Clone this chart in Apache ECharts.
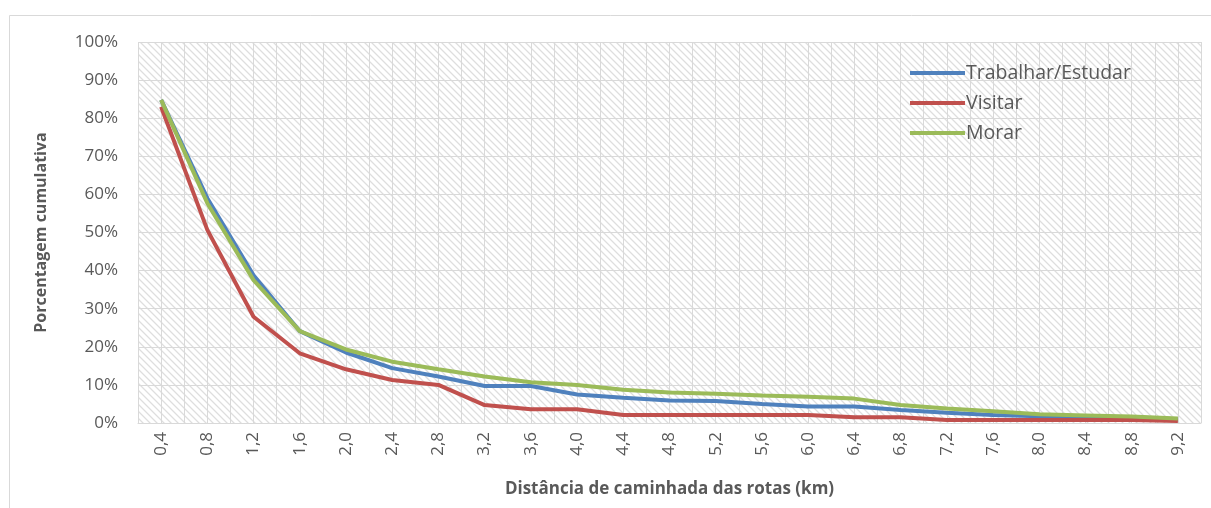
<!DOCTYPE html>
<html>
<head>
<meta charset="utf-8">
<script src="https://cdn.jsdelivr.net/npm/echarts@6/dist/echarts.min.js"></script>
<style>
  html, body { margin: 0; padding: 0; background: #fff; }
  #chart { width: 1211px; height: 508px; }
</style>
</head>
<body>
<div id="chart"></div>
<script>
const categories = ["0,4","0,8","1,2","1,6","2,0","2,4","2,8","3,2","3,6","4,0","4,4","4,8","5,2","5,6","6,0","6,4","6,8","7,2","7,6","8,0","8,4","8,8","9,2"];
const trabalharEstudar = [84.8, 59.0, 38.8, 24.1, 18.5, 14.4, 12.2, 9.7, 9.7, 7.5, 6.6, 5.9, 5.8, 5.0, 4.3, 4.3, 3.4, 2.7, 2.1, 1.8, 1.7, 1.5, 1.0];
const visitar = [83.0, 50.7, 27.9, 18.3, 14.1, 11.3, 10.0, 4.7, 3.6, 3.6, 2.1, 2.1, 2.1, 2.1, 2.1, 1.5, 1.5, 0.8, 0.8, 0.8, 0.8, 0.8, 0.5];
const morar = [84.8, 57.7, 37.5, 24.1, 19.3, 16.1, 14.1, 12.2, 10.7, 10.0, 8.7, 8.0, 7.7, 7.2, 6.9, 6.4, 4.7, 3.8, 3.1, 2.3, 2.0, 1.7, 1.2];
const seriesNames = ["Trabalhar/Estudar", "Visitar", "Morar"];
const colors = ["#4F81BD", "#C0504D", "#9BBB59"];

// hatch pattern tile
function makeHatch() {
  const s = 7;
  const c = document.createElement('canvas');
  c.width = s; c.height = s;
  const ctx = c.getContext('2d');
  const img = ctx.createImageData(s, s);
  for (let y = 0; y < s; y++) {
    for (let x = 0; x < s; x++) {
      const d = (((x - y) % s) + s) % s;
      let v = 255;
      if (d === 0) v = 222;
      else if (d === 1 || d === s - 1) v = 241;
      const i = (y * s + x) * 4;
      img.data[i] = v; img.data[i + 1] = v; img.data[i + 2] = v; img.data[i + 3] = 255;
    }
  }
  ctx.putImageData(img, 0, 0);
  return c;
}

const font = "'Open Sans', 'Noto Sans', sans-serif";
const chart = echarts.init(document.getElementById('chart'), null, { renderer: 'canvas' });
const minorCount = categories.length * 2;

chart.setOption({
  animation: false,
  backgroundColor: '#fff',
  textStyle: { fontFamily: font },
  graphic: [{
    type: 'rect',
    shape: { x: 9.5, y: 15.5, width: 1220, height: 520 },
    style: { fill: 'none', stroke: '#d9d9d9', lineWidth: 1 },
    z: -10, silent: true
  }],
  grid: {
    left: 138, right: 10, top: 42, bottom: 85,
    show: true,
    borderWidth: 0,
    backgroundColor: { image: makeHatch(), repeat: 'repeat' }
  },
  legend: {
    orient: 'vertical',
    left: 905, top: 53,
    icon: 'rect',
    itemWidth: 55, itemHeight: 4,
    itemGap: 0,
    textStyle: { color: '#595959', fontSize: 19.5, lineHeight: 30, fontFamily: font, padding: [0, 0, 0, -4] },
    data: seriesNames
  },
  xAxis: [{
    type: 'category',
    data: categories,
    boundaryGap: true,
    axisLine: { show: true, lineStyle: { color: '#d9d9d9', width: 1 } },
    axisTick: { show: false },
    axisLabel: { rotate: 90, color: '#595959', fontSize: 17, margin: 9, interval: 0, fontFamily: font },
    splitLine: { show: false },
    name: 'Distância de caminhada das rotas (km)',
    nameLocation: 'middle',
    nameGap: 58,
    nameTextStyle: { color: '#595959', fontSize: 17, fontWeight: 'bold', fontFamily: font }
  }, {
    type: 'value',
    min: 0, max: minorCount, interval: 1,
    position: 'bottom',
    axisLine: { show: false },
    axisTick: { show: false },
    axisLabel: { show: false },
    splitLine: { show: true, lineStyle: { color: '#d9d9d9', width: 1 } }
  }],
  yAxis: {
    type: 'value',
    min: 0, max: 100, interval: 10,
    axisLine: { show: false },
    axisTick: { show: false },
    axisLabel: { formatter: '{value}%', color: '#595959', fontSize: 17, margin: 20, fontFamily: font },
    splitLine: { show: true, lineStyle: { color: '#d9d9d9', width: 1 } },
    name: 'Porcentagem cumulativa',
    nameLocation: 'middle',
    nameGap: 89,
    nameRotate: 90,
    nameTextStyle: { color: '#595959', fontSize: 16, fontWeight: 'bold', fontFamily: font }
  },
  series: [
    { name: seriesNames[0], type: 'line', data: trabalharEstudar, xAxisIndex: 0, symbol: 'none', lineStyle: { color: colors[0], width: 4 }, itemStyle: { color: colors[0] } },
    { name: seriesNames[1], type: 'line', data: visitar, xAxisIndex: 0, symbol: 'none', lineStyle: { color: colors[1], width: 4 }, itemStyle: { color: colors[1] } },
    { name: seriesNames[2], type: 'line', data: morar, xAxisIndex: 0, symbol: 'none', lineStyle: { color: colors[2], width: 4 }, itemStyle: { color: colors[2] } }
  ]
});
</script>
</body>
</html>
